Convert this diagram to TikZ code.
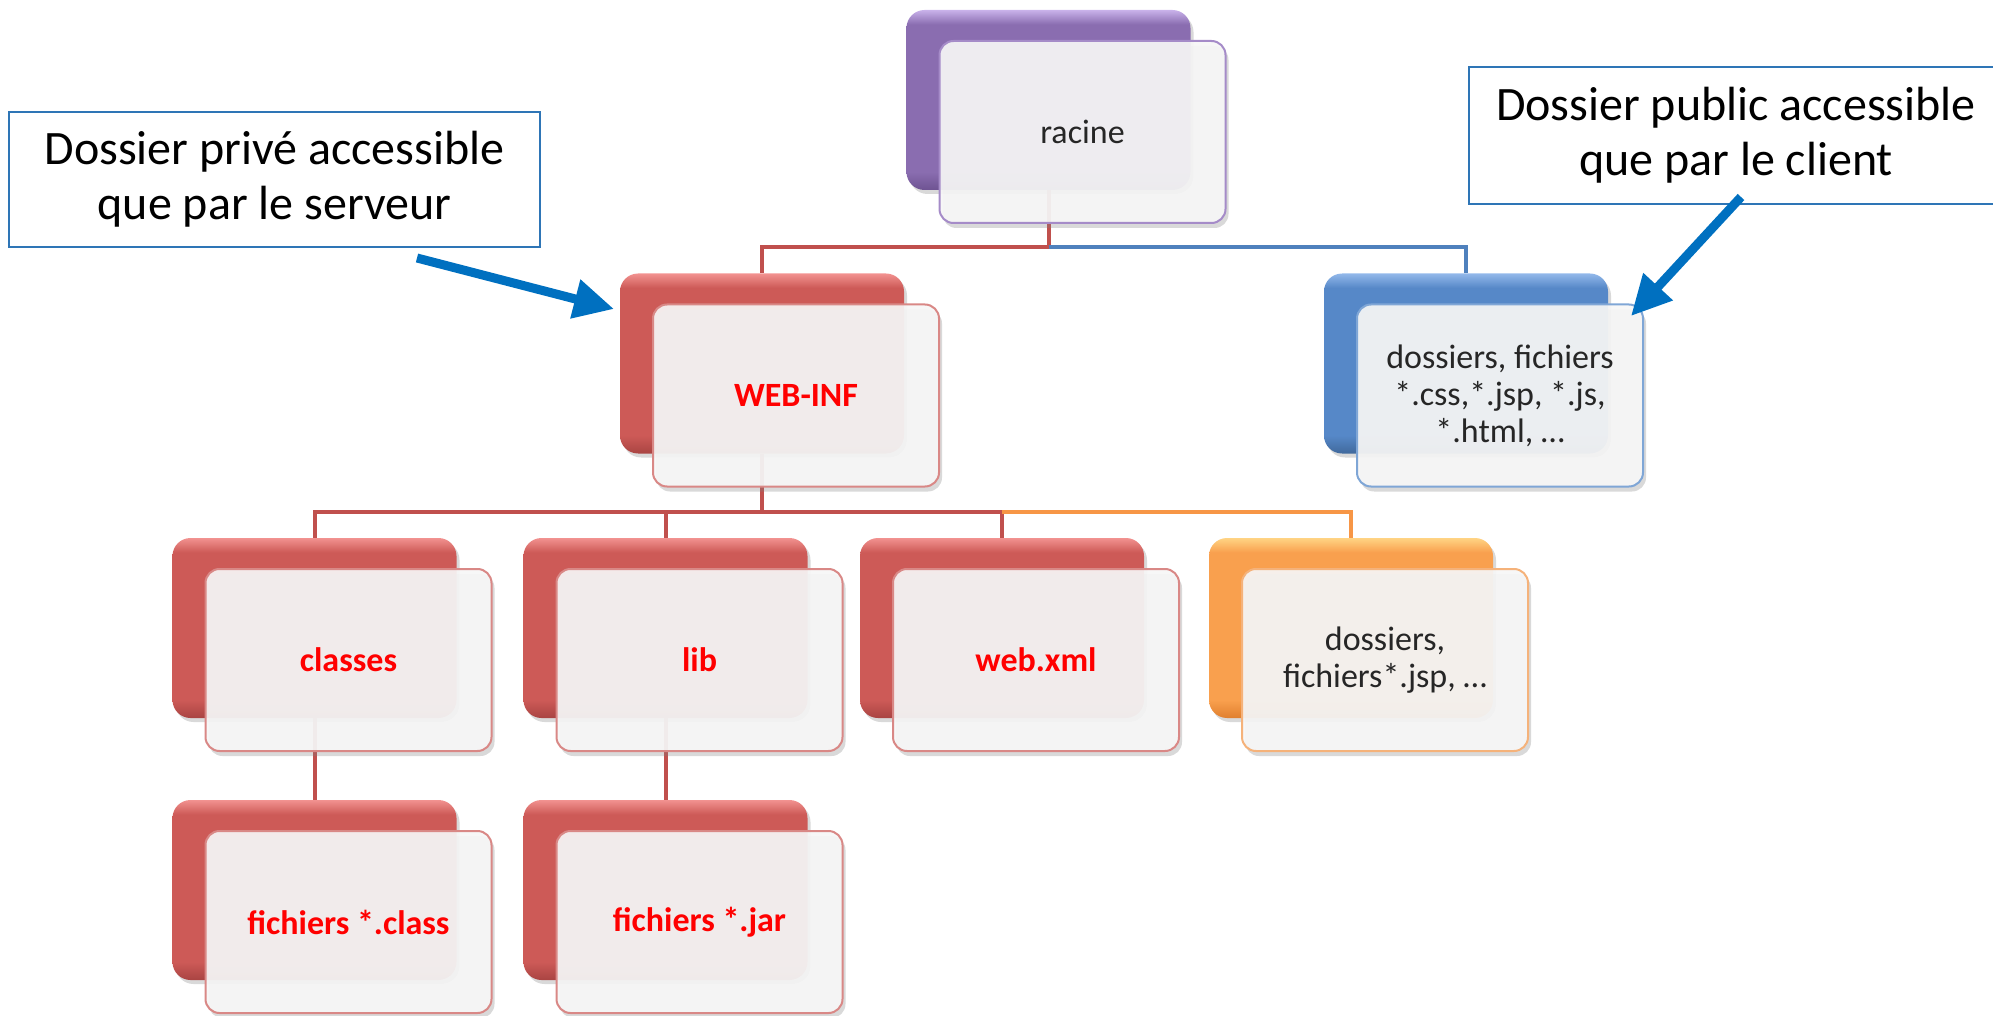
\documentclass[tikz,border=0pt]{standalone}
\usepackage{fontspec}
\setmainfont{Carlito}
\usetikzlibrary{shadows,arrows.meta,calc}
\definecolor{pD}{HTML}{6E5392}\definecolor{pC}{HTML}{8A6DB0}\definecolor{pL}{HTML}{C9B2EA}\definecolor{pB}{HTML}{A58BC8}
\definecolor{rD}{HTML}{A94442}\definecolor{rC}{HTML}{CD5A57}\definecolor{rL}{HTML}{F29290}\definecolor{rB}{HTML}{D98886}
\definecolor{bD}{HTML}{40699C}\definecolor{bC}{HTML}{5688C8}\definecolor{bL}{HTML}{92B8EA}\definecolor{bB}{HTML}{7FA6D6}
\definecolor{oD}{HTML}{E07F2E}\definecolor{oC}{HTML}{F9A04E}\definecolor{oL}{HTML}{FFD484}\definecolor{oB}{HTML}{F5B27A}
\definecolor{lineR}{HTML}{C0504D}\definecolor{lineB}{HTML}{4F81BD}\definecolor{lineO}{HTML}{F79646}
\definecolor{callB}{HTML}{2E75B6}\definecolor{arrB}{HTML}{0070C0}
\definecolor{frontfill}{HTML}{F6F6F6}
\pgfdeclareverticalshading{psh}{100bp}{color(0bp)=(pD); color(25bp)=(pD); color(30bp)=(pC); color(71bp)=(pC); color(75bp)=(pL); color(100bp)=(pL)}
\pgfdeclareverticalshading{rsh}{100bp}{color(0bp)=(rD); color(25bp)=(rD); color(30bp)=(rC); color(71bp)=(rC); color(75bp)=(rL); color(100bp)=(rL)}
\pgfdeclareverticalshading{bsh}{100bp}{color(0bp)=(bD); color(25bp)=(bD); color(30bp)=(bC); color(71bp)=(bC); color(75bp)=(bL); color(100bp)=(bL)}
\pgfdeclareverticalshading{osh}{100bp}{color(0bp)=(oD); color(25bp)=(oD); color(30bp)=(oC); color(71bp)=(oC); color(75bp)=(oL); color(100bp)=(oL)}
\pgfdeclarelayer{bg}
\pgfsetlayers{bg,main}
\tikzset{
  backbox/.style={rounded corners=9pt, minimum width=142pt, minimum height=90pt, inner sep=0pt,
    shade, shading=#1sh, drop shadow={shadow xshift=1.5pt, shadow yshift=-2pt, opacity=.3}},
  frontbox/.style={rounded corners=7pt, minimum width=143pt, minimum height=91pt, inner sep=2pt,
    draw=#1B, line width=1pt, fill=frontfill, fill opacity=.93, text opacity=1, align=center,
    drop shadow={shadow xshift=1.5pt, shadow yshift=-2.5pt, opacity=.3}},
  plain/.style={font=\fontsize{17}{18.5}\selectfont, text=black!85},
  redtxt/.style={font=\bfseries\fontsize{17}{18.5}\selectfont, text=red},
  conn/.style={line width=2pt, draw=#1},
  callout/.style={draw=callB, line width=1pt, fill=white, align=center, inner sep=0pt,
    font=\fontsize{24}{27.5}\selectfont},
  pointer/.style={draw=arrB, line width=4.5pt, -{Triangle[length=20pt,width=19pt]}}
}
\newcommand\orgbox[6]{%
  \node[backbox=#4] (#1b) at (#2,#3) {};
  \node[frontbox=#4,#5] (#1) at ([shift={(34,32)}]#1b.center) {#6};}
\begin{document}
\begin{tikzpicture}[x=0.5pt,y=-0.5pt]
\useasboundingbox (0,0) rectangle (1993,1016);
% boxes
\orgbox{root}{1048.5}{100}{p}{plain}{racine}
\orgbox{web}{762}{363.5}{r}{redtxt}{WEB-INF}
\orgbox{pub}{1466}{363.5}{b}{plain}{dossiers, fichiers\\*.css,*.jsp, *.js,\\*.html, …}
\orgbox{cls}{314.5}{628}{r}{redtxt}{classes}
\orgbox{lib}{665.5}{628}{r}{redtxt}{lib}
\orgbox{xml}{1002}{628}{r}{redtxt}{web.xml}
\orgbox{oth}{1351}{628}{o}{plain}{dossiers,\\fichiers*.jsp, …}
\orgbox{clf}{314.5}{890}{r}{redtxt}{fichiers *.class}
\orgbox{jar}{665.5}{890}{r}{redtxt}{fichiers *.jar}
% connectors
\coordinate (j1) at (1048.5,247);
\coordinate (j2) at (762,512);
\begin{pgfonlayer}{bg}
\draw[conn=lineR] (rootb.south) -- (j1) -| (webb.north);
\draw[conn=lineB] (j1) -| (pubb.north);
\draw[conn=lineR] (webb.south) -- (j2);
\draw[conn=lineR] (j2) -| (clsb.north);
\draw[conn=lineR] (j2) -| (libb.north);
\draw[conn=lineR] (j2) -| (xmlb.north);
\draw[conn=lineO] (xmlb.north |- j2) -| (othb.north);
\draw[conn=lineR] (clsb.south) -- (clfb.north);
\draw[conn=lineR] (libb.south) -- (jarb.north);
\end{pgfonlayer}
% callouts
\node[callout, minimum width=265.5pt, minimum height=67.5pt] (cpriv) at (274.5,179.5)
  {Dossier privé accessible\\que par le serveur};
\node[callout, minimum width=267pt, minimum height=68.5pt] (cpub) at (1736,135.5)
  {Dossier public accessible\\que par le client};
\coordinate (a1s) at (417,258);
\coordinate (a1e) at (614,309);
\coordinate (a2s) at (1741,197);
\coordinate (a2e) at (1631,316);
\draw[pointer] (a1s) -- (a1e);
\draw[pointer] (a2s) -- (a2e);
\end{tikzpicture}
\end{document}
